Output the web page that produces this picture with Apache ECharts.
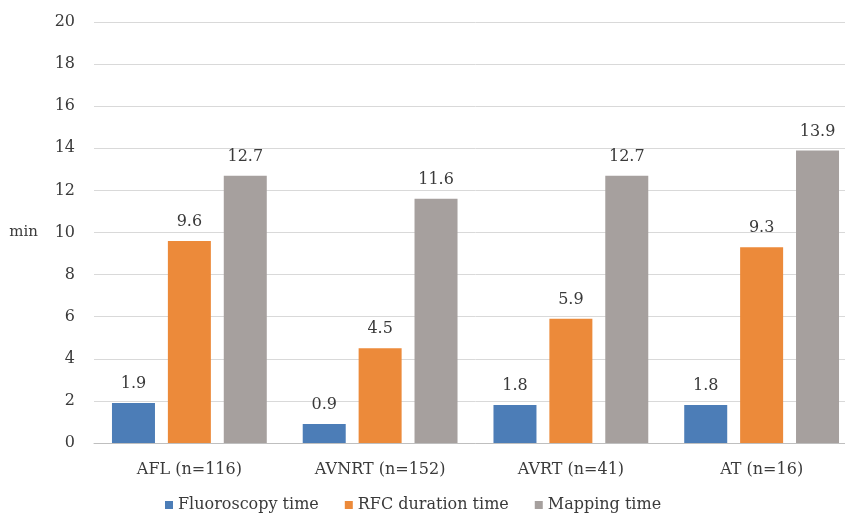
<!DOCTYPE html>
<html>
<head>
<meta charset="utf-8">
<script src="https://cdn.jsdelivr.net/npm/echarts@6/dist/echarts.min.js"></script>
<style>
  html, body { margin: 0; padding: 0; background: #fff; overflow: hidden; }
  #wrap { width: 845px; height: 519px; overflow: hidden; }
  /* the plot runs slightly past the right edge of the frame */
  #chart { width: 870px; height: 519px; }
</style>
</head>
<body>
<div id="wrap"><div id="chart"></div></div>
<script>
// Procedure times per arrhythmia type (minutes)
const categories = ['AFL (n=116)', 'AVNRT (n=152)', 'AVRT (n=41)', 'AT (n=16)'];
const fluoroscopyTime = [1.9, 0.9, 1.8, 1.8];
const rfcDurationTime = [9.6, 4.5, 5.9, 9.3];
const mappingTime = [12.7, 11.6, 12.7, 13.9];
const yTicks = [0, 2, 4, 6, 8, 10, 12, 14, 16, 18, 20];

const FONT = '"DejaVu Serif", "Liberation Serif", serif';
const TEXT = '#3a3a3a';
const colors = ['#4c7db7', '#ec8a3a', '#a6a09e'];

const chart = echarts.init(document.getElementById('chart'), null, { renderer: 'canvas' });

function barSeries(name, data, color) {
  return {
    name: name,
    type: 'bar',
    data: data,
    barWidth: 43,
    barGap: '30%',
    itemStyle: { color: color },
    label: {
      show: true,
      position: 'top',
      distance: 11,
      color: TEXT,
      fontFamily: FONT,
      fontSize: 16,
      formatter: p => p.value.toFixed(1)
    }
  };
}

chart.setOption({
  animation: false,
  backgroundColor: '#ffffff',
  textStyle: { fontFamily: FONT },
  grid: { left: 94, top: 22, width: 763, height: 421, containLabel: false },
  legend: {
    top: 492,
    left: 160,
    itemWidth: 8,
    itemHeight: 8,
    itemGap: 26,
    icon: 'rect',
    textStyle: { fontFamily: FONT, fontSize: 16, color: TEXT },
    data: ['Fluoroscopy time', 'RFC duration time', 'Mapping time']
  },
  xAxis: {
    type: 'category',
    data: categories,
    axisTick: { show: false },
    axisLine: { lineStyle: { color: '#bfbfbf', width: 1 } },
    axisLabel: { color: TEXT, fontFamily: FONT, fontSize: 16, margin: 19 }
  },
  yAxis: {
    type: 'value',
    min: yTicks[0],
    max: yTicks[yTicks.length - 1],
    interval: 2,
    name: 'min',
    nameLocation: 'middle',
    nameRotate: 0,
    nameGap: 56,
    nameTextStyle: { color: TEXT, fontFamily: FONT, fontSize: 15 },
    axisLine: { show: false },
    axisTick: { show: false },
    axisLabel: { color: TEXT, fontFamily: FONT, fontSize: 16, margin: 19 },
    splitLine: { lineStyle: { color: '#d9d9d9', width: 1 } }
  },
  series: [
    barSeries('Fluoroscopy time', fluoroscopyTime, colors[0]),
    barSeries('RFC duration time', rfcDurationTime, colors[1]),
    barSeries('Mapping time', mappingTime, colors[2])
  ]
});
</script>
</body>
</html>
